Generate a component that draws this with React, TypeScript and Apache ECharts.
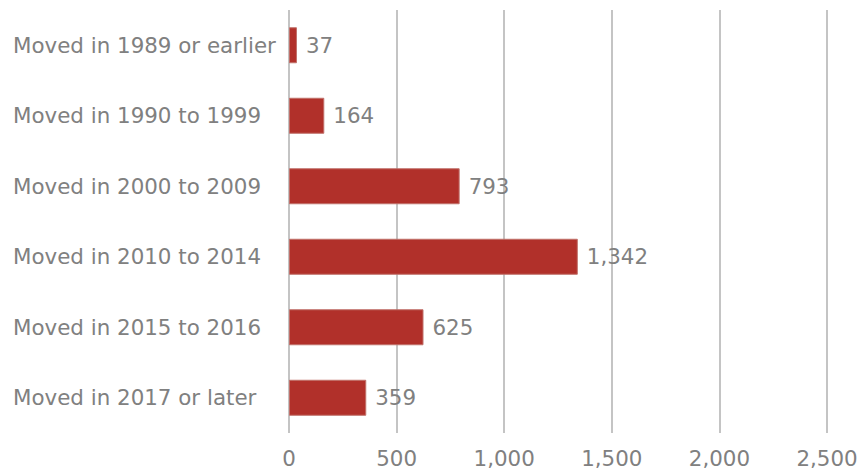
import React, { useEffect, useRef } from "react";
import * as echarts from "echarts";

const categories = [
  "Moved in 1989 or earlier",
  "Moved in 1990 to 1999",
  "Moved in 2000 to 2009",
  "Moved in 2010 to 2014",
  "Moved in 2015 to 2016",
  "Moved in 2017 or later",
];
const values = [37, 164, 793, 1342, 625, 359];
const xMin = 0;
const xMax = 2500;
const xInterval = 500;

const FONT = "'DejaVu Sans', Verdana, sans-serif";
const TEXT = "#808080";
const FS = 21.4;

export default function App() {
  const ref = useRef<HTMLDivElement>(null);
  useEffect(() => {
    if (!ref.current) return;
    const chart = echarts.init(ref.current, undefined, { renderer: "svg" });
    chart.setOption({
      animation: false,
      grid: { left: 289, right: 34, top: 10, bottom: 38, containLabel: false },
      xAxis: {
        type: "value",
        min: xMin,
        max: xMax,
        interval: xInterval,
        axisLine: { show: false },
        axisTick: { show: false },
        splitLine: { show: true, lineStyle: { color: "#c4c4c4", width: 2 } },
        axisLabel: {
          color: TEXT,
          fontFamily: FONT,
          fontSize: FS,
          lineHeight: 18,
          margin: 16,
          formatter: (v: number) => v.toLocaleString("en-US"),
        },
      },
      yAxis: {
        type: "category",
        data: categories,
        inverse: true,
        axisLine: { show: false },
        axisTick: { show: false },
        splitLine: { show: false },
        axisLabel: {
          color: TEXT,
          fontFamily: FONT,
          fontSize: FS,
          align: "left",
          margin: 276,
        },
      },
      series: [
        {
          type: "bar",
          data: values,
          barWidth: 36,
          itemStyle: { color: "#b1302a", borderColor: "#c0706a", borderWidth: 1 },
          label: {
            show: true,
            position: "right",
            distance: 9,
            color: TEXT,
            fontFamily: FONT,
            fontSize: FS,
            formatter: (p: any) => Number(p.value).toLocaleString("en-US"),
          },
        },
      ],
    });
    return () => chart.dispose();
  }, []);
  return <div ref={ref} style={{ width: 861, height: 471, position: "absolute", left: 0, top: 0 }} />;
}
